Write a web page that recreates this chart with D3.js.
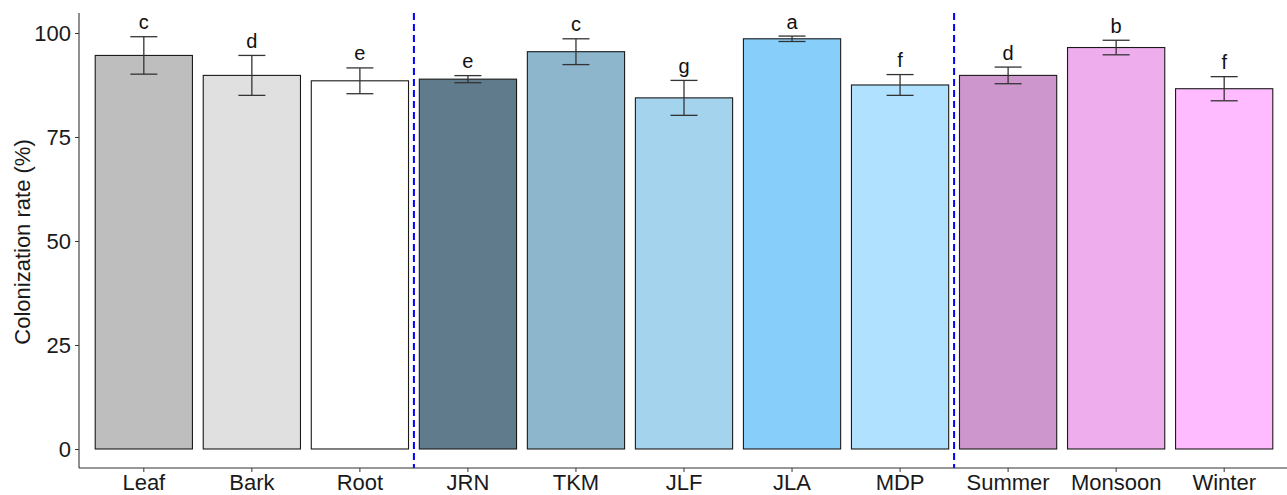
<!DOCTYPE html>
<html>
<head>
<meta charset="utf-8">
<script src="https://cdn.jsdelivr.net/npm/d3@7"></script>
<style>
  html, body { margin: 0; padding: 0; background: #fff; }
  svg { display: block; font-family: "Liberation Sans", Arial, sans-serif; }
</style>
</head>
<body>
<svg id="chart" width="1287" height="495"></svg>
<script>
// Colonization rate by tissue, site and season
const categories = ["Leaf", "Bark", "Root", "JRN", "TKM", "JLF", "JLA", "MDP", "Summer", "Monsoon", "Winter"];
const means      = [94.6, 89.8, 88.5, 88.9, 95.5, 84.4, 98.6, 87.5, 89.8, 96.5, 86.6];
const errors     = [4.5, 4.8, 3.1, 0.85, 3.1, 4.2, 0.65, 2.5, 2.0, 1.75, 2.9];
const letters    = ["c", "d", "e", "e", "c", "g", "a", "f", "d", "b", "f"];
const fills      = ["#BEBEBE", "#E0E0E0", "#FFFFFF", "#607B8B", "#8DB6CD", "#A4D3EE",
                    "#87CEFA", "#B0E2FF", "#CD96CD", "#EEAEEE", "#FFBBFF"];
const yTicks     = [0, 25, 50, 75, 100];
const groupBreaks = [3, 8]; // dashed separators after Root and after MDP

(function () {
  const svg = d3.select("#chart");
  const pLeft = 79, pRight = 1289, pTop = 13, pBottom = 468;

  const x = d3.scaleBand()
    .domain(categories)
    .range([pLeft, pRight])
    .paddingInner(0.1)
    .paddingOuter(0.15);

  const y = d3.scaleLinear()
    .domain([-4.57, 104.8])
    .range([pBottom, pTop]);

  const capW = x.step() * 0.25;

  // bars
  svg.append("g").selectAll("rect")
    .data(categories)
    .join("rect")
    .attr("x", d => x(d))
    .attr("width", x.bandwidth())
    .attr("y", (d, i) => y(means[i]))
    .attr("height", (d, i) => y(0) - y(means[i]))
    .attr("fill", (d, i) => fills[i])
    .attr("stroke", "#1a1a1a")
    .attr("stroke-width", 1.1);

  // error bars
  const eb = svg.append("g").attr("stroke", "#333").attr("stroke-width", 1.3).attr("fill", "none");
  categories.forEach((c, i) => {
    const cx = x(c) + x.bandwidth() / 2;
    const hi = y(means[i] + errors[i]), lo = y(means[i] - errors[i]);
    eb.append("line").attr("x1", cx).attr("x2", cx).attr("y1", hi).attr("y2", lo);
    eb.append("line").attr("x1", cx - capW / 2).attr("x2", cx + capW / 2).attr("y1", hi).attr("y2", hi);
    eb.append("line").attr("x1", cx - capW / 2).attr("x2", cx + capW / 2).attr("y1", lo).attr("y2", lo);
  });

  // significance letters
  svg.append("g").selectAll("text")
    .data(categories)
    .join("text")
    .attr("x", d => x(d) + x.bandwidth() / 2)
    .attr("y", (d, i) => y(means[i] + errors[i]) - 7.5)
    .attr("text-anchor", "middle")
    .attr("font-size", 20)
    .attr("fill", "#111")
    .text((d, i) => letters[i]);

  // group separators
  groupBreaks.forEach(b => {
    const bx = (x(categories[b - 1]) + x.bandwidth() + x(categories[b])) / 2;
    svg.append("line")
      .attr("x1", bx).attr("x2", bx)
      .attr("y1", pTop).attr("y2", pBottom)
      .attr("stroke", "#0000FF")
      .attr("stroke-width", 2)
      .attr("stroke-dasharray", "7,4");
  });

  // y axis
  const yAxis = svg.append("g")
    .attr("transform", `translate(${pLeft},0)`)
    .call(d3.axisLeft(y).tickValues(yTicks).tickSize(4).tickPadding(4));
  yAxis.select(".domain").attr("stroke", "#333").attr("stroke-width", 1.1)
    .attr("d", `M0,${pTop}V${pBottom}`);
  yAxis.selectAll(".tick line").attr("stroke", "#333");
  yAxis.selectAll(".tick text").attr("font-size", 22).attr("fill", "#1a1a1a")
    .attr("font-family", "Liberation Sans, Arial, sans-serif");

  // x axis
  const xAxis = svg.append("g")
    .attr("transform", `translate(0,${pBottom})`)
    .call(d3.axisBottom(x).tickSize(4).tickPadding(2));
  xAxis.select(".domain").attr("stroke", "#333").attr("stroke-width", 1.1)
    .attr("d", `M${pLeft},0H${pRight}`);
  xAxis.selectAll(".tick line").attr("stroke", "#333");
  xAxis.selectAll(".tick text").attr("font-size", 22).attr("fill", "#1a1a1a")
    .attr("font-family", "Liberation Sans, Arial, sans-serif");

  // y title
  svg.append("text")
    .attr("transform", `translate(30,242) rotate(-90)`)
    .attr("text-anchor", "middle")
    .attr("font-size", 22)
    .attr("fill", "#1a1a1a")
    .text("Colonization rate (%)");
})();
</script>
</body>
</html>
